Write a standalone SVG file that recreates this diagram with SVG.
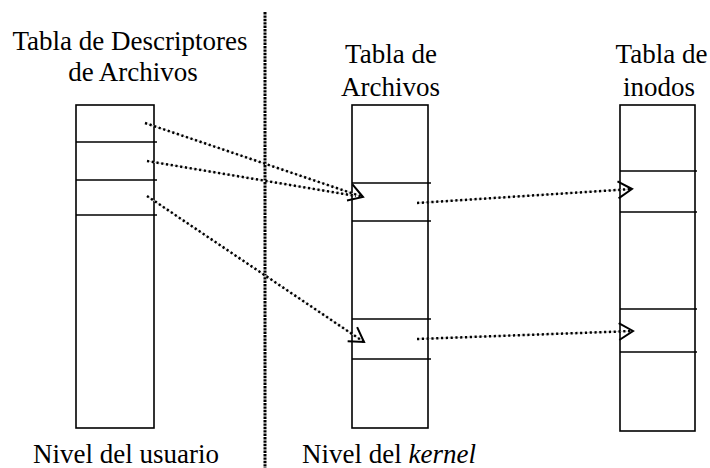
<svg xmlns="http://www.w3.org/2000/svg" width="710" height="468" viewBox="0 0 710 468">
<style>
.t{font-family:'Liberation Serif','Times New Roman',serif;font-size:27px;fill:#000}
.box{fill:#fff;stroke:#000;stroke-width:1.6}
.row{stroke:#000;stroke-width:1.6}
.conn-bg{stroke:#c8c8c8;stroke-width:1;fill:none}
.conn{stroke:#000;stroke-width:2.5;stroke-dasharray:2.2 2.6;fill:none}
.sep{stroke:#000;stroke-width:3;stroke-dasharray:2.4 1}
</style>
<defs>
<marker id="chev" markerUnits="userSpaceOnUse" markerWidth="20" markerHeight="20" viewBox="-16 -10 18 20" refX="0" refY="0" orient="auto" overflow="visible">
<path d="M-14,-8.5 L0,0 L-14,8.5" fill="none" stroke="#000" stroke-width="2"/>
</marker>
</defs>
<rect width="710" height="468" fill="#fff"/>
<line id="separator" class="sep" x1="265" y1="12" x2="265" y2="468"/>
<g id="tabla-descriptores">
<text class="t" x="130" y="50" text-anchor="middle">Tabla de Descriptores</text>
<text class="t" x="133" y="81" text-anchor="middle">de Archivos</text>
<rect class="box" x="76" y="105" width="78" height="323"/>
<line class="row" x1="76" y1="142" x2="157" y2="142"/>
<line class="row" x1="76" y1="180" x2="157" y2="180"/>
<line class="row" x1="76" y1="215" x2="157" y2="215"/>
</g>
<g id="tabla-archivos">
<text class="t" x="391" y="63" text-anchor="middle">Tabla de</text>
<text class="t" x="390.5" y="96" text-anchor="middle">Archivos</text>
<rect class="box" x="352" y="105" width="76" height="323"/>
<line class="row" x1="352" y1="183" x2="431" y2="183"/>
<line class="row" x1="352" y1="221" x2="431" y2="221"/>
<line class="row" x1="352" y1="319" x2="431" y2="319"/>
<line class="row" x1="352" y1="359" x2="431" y2="359"/>
</g>
<g id="tabla-inodos">
<text class="t" x="661.5" y="63" text-anchor="middle">Tabla de</text>
<text class="t" x="659" y="96" text-anchor="middle">inodos</text>
<rect class="box" x="620" y="105" width="75" height="326"/>
<line class="row" x1="620" y1="171" x2="697" y2="171"/>
<line class="row" x1="620" y1="212" x2="697" y2="212"/>
<line class="row" x1="620" y1="309" x2="697" y2="309"/>
<line class="row" x1="620" y1="352" x2="697" y2="352"/>
</g>
<g id="nivel-usuario">
<text class="t" x="33" y="463">Nivel del usuario</text>
</g>
<g id="nivel-kernel">
<text class="t" x="302" y="463">Nivel del <tspan font-style="italic">kernel</tspan></text>
</g>
<g id="connectors">
<line class="conn-bg" x1="145" y1="123" x2="363" y2="197"/>
<line class="conn" x1="145" y1="123" x2="363" y2="197" marker-end="url(#chev)"/>
<line class="conn-bg" x1="147" y1="161" x2="356" y2="196"/>
<line class="conn" x1="147" y1="161" x2="356" y2="196"/>
<line class="conn-bg" x1="147" y1="196" x2="364" y2="342"/>
<line class="conn" x1="147" y1="196" x2="364" y2="342" marker-end="url(#chev)"/>
<line class="conn-bg" x1="417" y1="203" x2="632" y2="189"/>
<line class="conn" x1="417" y1="203" x2="632" y2="189" marker-end="url(#chev)"/>
<line class="conn-bg" x1="417" y1="339" x2="633" y2="331"/>
<line class="conn" x1="417" y1="339" x2="633" y2="331" marker-end="url(#chev)"/>
</g>
</svg>
